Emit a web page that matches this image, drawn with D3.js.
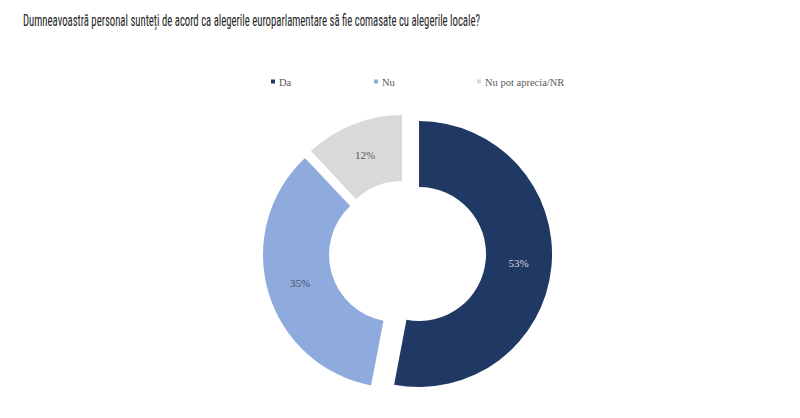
<!DOCTYPE html>
<html>
<meta charset="utf-8">
<style>
  body { margin: 0; background: #fff; }
  .title { font-family: "Liberation Sans Narrow", "Roboto Condensed", "Liberation Sans", sans-serif; fill: #262626; }
  .legend text, .lbl { font-family: "Liberation Serif", "DejaVu Serif", serif; }
  .legend text { fill: #595959; font-size: 10.5px; }
</style>
<body>
<script src="https://d3js.org/d3.v7.min.js"></script>
<script>
  // data
  let categories = ["Da", "Nu", "Nu pot aprecia/NR"];
  let values = [53, 35, 12];
  let titleText = "Dumneavoastră personal sunteți de acord ca alegerile europarlamentare să fie comasate cu alegerile locale?";

  // styling
  let colors = ["#203864", "#8faadc", "#d9d9d9"];
  let labelColors = ["#d9d9d9", "#44546a", "#595959"];
  let explode = [15.3, 8.1, 4.9];   // how far each slice is pulled out
  let legendX = [271, 374, 477];

  const width = 800, height = 418;
  const cx = 403.8, cy = 252.6, outerR = 133, innerR = 67;

  const svg = d3.select("body").append("svg")
      .attr("width", width).attr("height", height);

  // title, stretched to the width it has in the picture
  svg.append("text")
      .attr("class", "title")
      .attr("x", 23).attr("y", 25.5)
      .attr("font-size", 16.5)
      .attr("textLength", 457)
      .attr("lengthAdjust", "spacingAndGlyphs")
      .text(titleText);

  // legend
  const legend = svg.append("g").attr("class", "legend");
  categories.forEach(function(c, i) {
    legend.append("rect")
        .attr("x", legendX[i]).attr("y", 79.5)
        .attr("width", 4).attr("height", 4)
        .attr("fill", colors[i]);
    legend.append("text")
        .attr("x", legendX[i] + 8).attr("y", 85.5)
        .text(c);
  });

  // donut
  const pie = d3.pie().sort(null).value(d => d);
  const arc = d3.arc().innerRadius(innerR).outerRadius(outerR);
  const labelArc = d3.arc().innerRadius((innerR + outerR) / 2).outerRadius((innerR + outerR) / 2);

  const g = svg.append("g").attr("transform", "translate(" + cx + "," + cy + ")");

  const slices = g.selectAll("g.slice")
      .data(pie(values))
      .enter().append("g")
      .attr("class", "slice")
      .attr("transform", function(d, i) {
        let mid = (d.startAngle + d.endAngle) / 2;
        return "translate(" + (Math.sin(mid) * explode[i]) + "," + (-Math.cos(mid) * explode[i]) + ")";
      });

  slices.append("path")
      .attr("d", arc)
      .attr("fill", (d, i) => colors[i]);

  slices.append("text")
      .attr("class", "lbl")
      .attr("transform", d => "translate(" + labelArc.centroid(d) + ")")
      .attr("text-anchor", "middle")
      .attr("dy", "0.35em")
      .attr("font-size", 11)
      .attr("fill", (d, i) => labelColors[i])
      .text(d => d.data + "%");
</script>
</body>
</html>
